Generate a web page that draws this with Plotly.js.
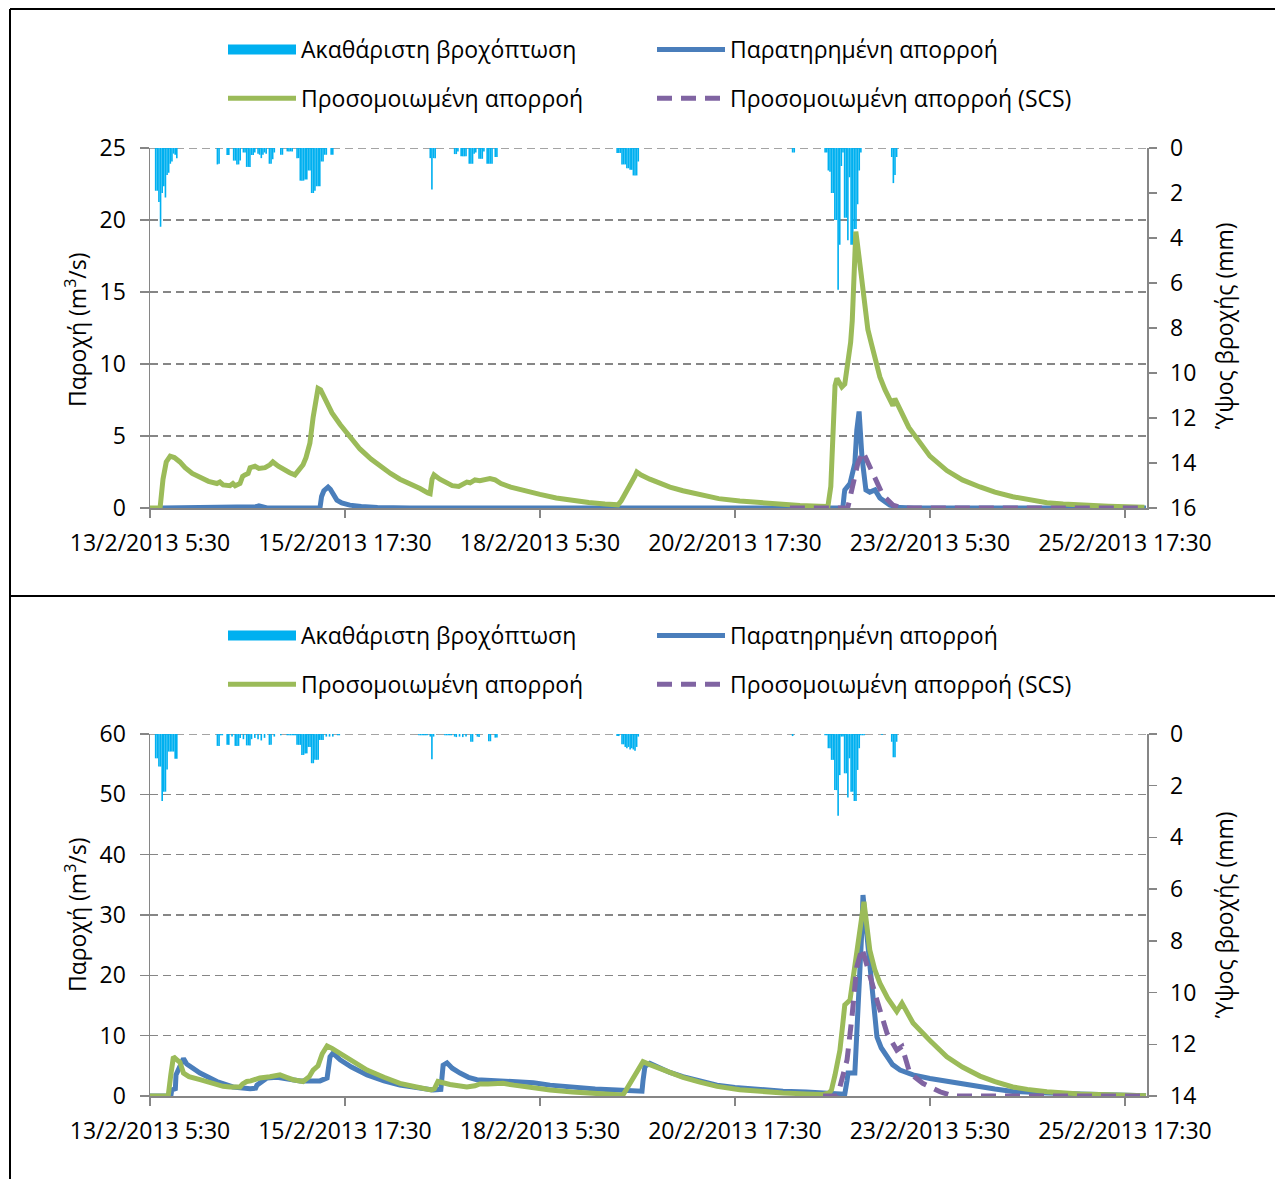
<!DOCTYPE html>
<html><head><meta charset="utf-8">
<script src="https://cdn.plot.ly/plotly-3.0.1.min.js"></script>
<style>html,body{margin:0;padding:0;background:#fff}</style>
</head><body><div id="chart" style="width:1277px;height:1179px"></div>
<script>
// ---- data (time given as hours after 13/2/2013 05:30) ----
const xTickHours = [0, 60, 120, 180, 240, 300];
const xTickLabels = ['13/2/2013 5:30','15/2/2013 17:30','18/2/2013 5:30','20/2/2013 17:30','23/2/2013 5:30','25/2/2013 17:30'];
const nameRain = 'Ακαθάριστη βροχόπτωση';
const nameObs = 'Παρατηρημένη απορροή';
const nameSim = 'Προσομοιωμένη απορροή';
const nameScs = 'Προσομοιωμένη απορροή (SCS)';
const titleFlow = 'Παροχή (m<sup>3</sup>/s)';
const titleRain = 'Ύψος βροχής (mm)';

const rainTopH = [1.75,2.25,2.75,3.25,3.75,4.25,4.75,5.25,5.75,6.25,6.75,7.25,7.75,8.25,
20.75,21.25,23.75,24.25,25.75,26.25,26.75,27.25,27.75,28.75,29.25,29.75,30.25,30.75,31.25,31.75,32.25,33.25,33.75,34.25,34.75,35.25,35.75,36.75,37.25,37.75,38.25,40.25,40.75,42.25,42.75,43.25,43.75,
45.25,45.75,46.25,46.75,47.25,47.75,48.25,48.75,49.25,49.75,50.25,50.75,51.25,51.75,52.25,52.75,53.25,53.75,54.25,55.75,56.25,
86.25,86.75,87.25,87.75,
93.75,94.25,94.75,95.75,96.25,96.75,97.25,98.25,98.75,99.25,99.75,100.25,101.25,101.75,102.25,102.75,103.75,104.25,104.75,105.25,106.25,106.75,
143.75,144.25,144.75,145.25,145.75,146.25,146.75,147.25,147.75,148.25,148.75,149.25,149.75,150.25,
197.75,198.25,
207.75,208.25,208.75,209.25,209.75,210.25,210.75,211.25,211.75,212.25,212.75,213.25,213.75,214.25,214.75,215.25,215.75,216.25,216.75,217.25,217.75,218.25,218.75,
228.25,228.75,229.25,229.75];
const rainTopMm = [1.9,1.9,2.4,3.5,2.0,1.7,2.2,1.2,1.1,0.7,0.6,0.25,0.3,0.45,
0.73,0.7,0.31,0.31,0.56,0.56,0.73,0.73,0.56,0.2,0.2,0.84,0.84,0.84,0.31,0.31,0.2,0.25,0.3,0.45,0.3,0.2,0.25,0.7,0.7,0.5,0.2,0.3,0.3,0.15,0.15,0.15,0.15,
0.45,0.45,1.45,1.45,1.45,1.4,1.4,1.0,1.0,2.0,2.0,1.9,1.7,1.7,1.7,0.6,0.6,0.3,0.3,0.3,0.3,
0.45,1.84,0.45,0.45,
0.27,0.27,0.15,0.37,0.37,0.37,0.37,0.7,0.7,0.7,0.25,0.2,0.48,0.48,0.48,0.15,0.7,0.7,0.7,0.7,0.4,0.4,
0.22,0.22,0.22,0.73,0.73,0.73,0.9,0.9,0.97,0.97,1.22,1.22,1.22,0.6,
0.2,0.2,
0.2,0.2,1.0,1.05,2.0,2.0,3.2,3.2,6.3,4.3,0.8,0.2,3.1,3.1,4.1,1.3,4.3,4.3,3.6,3.6,2.5,1.0,0.2,
0.4,1.56,1.2,0.4];

const rainBotH = [1.75,2.25,2.75,3.25,3.75,4.25,4.75,5.25,5.75,6.25,6.75,7.25,7.75,8.25,
20.75,21.25,21.75,22.25,23.75,24.25,25.25,26.25,26.75,27.25,27.75,28.75,29.75,30.25,30.75,31.25,32.25,33.25,34.25,35.25,36.75,37.25,38.25,40.25,
42.25,42.75,43.25,43.75,44.25,44.75,45.25,45.75,46.25,46.75,47.25,47.75,48.25,48.75,49.25,49.75,50.25,50.75,51.25,51.75,52.25,52.75,53.25,54.25,55.25,56.25,57.75,58.25,
82.75,83.25,83.75,84.25,84.75,85.25,86.25,86.75,87.25,
90.75,91.25,91.75,92.25,92.75,93.75,94.25,95.25,96.25,97.25,98.75,99.25,100.75,101.25,104.25,104.75,106.25,106.75,
143.75,144.25,145.25,145.75,146.25,146.75,147.25,147.75,148.25,148.75,149.25,149.75,150.25,
197.75,
207.75,208.25,208.75,209.25,209.75,210.25,210.75,211.25,211.75,212.25,212.75,213.25,213.75,214.25,214.75,215.25,215.75,216.25,216.75,217.25,217.75,218.25,218.75,219.25,219.75,
225.25,228.25,228.75,229.25,229.75];
const rainBotMm = [0.94,0.94,1.26,1.26,2.59,2.23,2.23,1.37,0.68,0.68,0.68,0.68,0.96,0.96,
0.46,0.46,0.05,0.05,0.42,0.42,0.1,0.46,0.46,0.46,0.15,0.2,0.44,0.44,0.44,0.2,0.15,0.2,0.25,0.15,0.42,0.42,0.1,0.05,
0.05,0.05,0.05,0.05,0.05,0.05,0.42,0.42,0.42,0.81,0.81,0.75,0.75,0.5,0.5,1.13,1.13,1.0,1.0,1.0,0.23,0.23,0.23,0.1,0.1,0.1,0.05,0.05,
0.05,0.05,0.05,0.05,0.05,0.05,0.1,0.98,0.1,
0.05,0.05,0.05,0.05,0.05,0.1,0.12,0.1,0.12,0.1,0.3,0.3,0.1,0.12,0.28,0.28,0.14,0.14,
0.08,0.08,0.4,0.4,0.5,0.55,0.5,0.6,0.55,0.6,0.65,0.5,0.1,
0.08,
0.05,0.05,0.55,0.55,1.0,1.0,2.17,2.17,3.16,1.59,0.1,0.1,1.52,1.52,2.46,0.94,2.23,2.23,2.59,2.59,1.39,0.55,0.05,0.05,0.05,
0.04,0.3,0.9,0.9,0.3];

const topSimH = [0,3.1,4.0,5.0,6.2,7.5,9.2,10.8,13,15.4,18,20.6,21.5,22.5,24.6,25.5,26.2,27.7,28.5,29.2,30.2,30.8,32.3,33.5,35.4,36.9,37.8,39.5,41.5,43,44.6,46.2,47.1,48,49.2,50.2,51,51.7,52.5,53.8,56,58.5,61.5,64.6,68,70.8,74,76.9,80,83.1,85.5,86.2,86.8,87.4,89.2,91,93,95,96.5,97.5,98.5,100,101.5,102.5,104.6,106.2,108,111,115,120,125,130,135,140,144,145,146,147.1,148.3,149.2,149.8,151,153.8,157,160,164,169.2,175,181.5,188,194,200,206,208.6,209.5,210.2,210.8,211.4,212.3,212.9,213.8,214.5,215.1,215.6,216.1,216.6,217.0,217.2,217.6,218.1,218.8,219.5,220.3,220.9,222,223.4,224.6,226.2,227.7,228.6,229.2,229.8,231.4,233.5,234.8,237,240,245.2,250,255.4,260,265.5,270,276,281,286.2,295,306];
const topSimQ = [0,0,2.0,3.2,3.6,3.5,3.2,2.8,2.4,2.1,1.85,1.7,1.8,1.6,1.55,1.7,1.55,1.7,2.2,2.3,2.4,2.8,2.9,2.75,2.8,3.0,3.2,2.9,2.6,2.45,2.3,2.8,3.0,3.5,4.5,6.3,7.5,8.3,8.2,7.6,6.6,5.8,4.9,4.1,3.4,2.9,2.4,2.0,1.7,1.35,1.05,1.0,2.0,2.3,2.0,1.75,1.55,1.5,1.7,1.8,1.75,1.95,1.9,1.95,2.05,1.95,1.7,1.45,1.2,0.95,0.7,0.52,0.38,0.28,0.22,0.5,0.9,1.2,1.7,2.2,2.5,2.3,2.0,1.7,1.45,1.2,0.9,0.65,0.48,0.35,0.25,0.18,0.12,0.1,1.5,6.6,8.5,9.0,8.6,8.4,8.6,9.8,10.5,11.5,13,15.5,18.0,19.2,18.5,17.2,16.3,15.0,13.8,12.4,11.4,10.1,9.1,8.2,7.4,7.1,7.6,7.3,6.5,5.6,5.2,4.5,3.6,2.6,1.95,1.46,1.1,0.78,0.6,0.37,0.27,0.2,0.12,0.05];

const topObsH = [3.7,30,32.5,33.5,35,36,52.3,52.8,53.5,54.8,55.5,56.5,57.5,59,61.5,65,70,80,213.2,213.6,213.8,215.4,216.9,217.5,218.2,219.1,220.3,221.5,223.1,224.6,227.7,230.8,235,306.5];
const topObsQ = [0,0,0.08,0.15,0.05,0,0,0.8,1.2,1.45,1.3,0.9,0.55,0.35,0.2,0.1,0.03,0,0,0.9,1.25,1.7,3.1,5.4,6.7,3.5,1.25,1.1,1.25,0.7,0.2,0.03,0,0];

const topScsH = [196.9,214.5,214.8,216.3,217.8,219.4,220.6,223.1,225.5,228.6,231.7,306.5];
const topScsQ = [0,0,0.1,1.7,3.1,3.9,3.3,2.2,0.9,0.2,0,0];

const botObsH = [0,6.4,6.7,7.8,8.0,8.6,9.5,10.3,11.3,12.3,15.4,20.6,25.5,30.8,32.5,32.9,34.5,36,39.1,42,46.2,52.3,53.5,54.5,55.4,56.3,58.5,62,66.8,72,76.9,82,87.1,89.5,90.2,91.4,93,95.4,98,100.6,104,107.7,112.9,118,123.1,130,137,143.7,151.4,151.7,152.3,153.8,157,160,164,169,174.5,180,186,194.8,202,209.2,213.8,214.5,214.8,216.9,217.5,218.5,219.1,219.4,220,220.6,221.5,223.1,223.7,225,226.8,228.5,230.8,234.8,240,245.2,250,255.4,260,265.5,270,276,286.2,296,306.5];
const botObsQ = [0,0,1.0,1.2,3.5,4.3,5.0,6.2,5.3,4.9,3.8,2.4,1.5,1.2,1.3,1.8,2.5,3.0,3.1,2.8,2.5,2.5,2.8,3.0,6.5,7.1,6.0,4.8,3.5,2.5,1.8,1.3,1.0,1.1,5.1,5.5,4.6,3.8,3.1,2.7,2.6,2.5,2.5,2.2,1.8,1.4,1.15,1.0,0.8,2.5,4.9,5.4,4.6,3.9,3.2,2.5,1.8,1.4,1.1,0.8,0.65,0.45,0.3,2.6,3.8,3.8,10.4,18.7,28,33.3,30,26,21.4,14.3,9.8,8.0,6.5,5.2,4.3,3.5,2.9,2.4,2.0,1.5,1.15,0.75,0.6,0.5,0.35,0.2,0.05];

const botSimH = [0,5.6,6.4,7.2,8.3,9.2,10.3,12,15.4,19,22.5,24.6,27.7,28.5,29.8,31,33.8,36.9,40,42,44,47.1,49,50.2,51.7,53,54.5,56,58.5,62,66.8,72,76.9,82,86.5,87.5,88.6,92.3,97.5,100,101.5,104,108.6,112,116,123.1,130,135.4,140,145.5,146.5,148.3,150,151.7,153.8,159.1,164,169.2,174.5,181.5,188,194.8,202,207.1,209,209.7,210.8,212.3,213.2,213.8,215.4,216.4,217.9,219.0,219.7,220.3,221.5,223,224.6,227,229.8,231.4,234.8,240,245.2,250,255.4,260,265.5,270,276,286.2,296,306.5];
const botSimQ = [0,0,3.5,6.5,6.0,5.6,3.8,3.2,2.7,2.1,1.6,1.5,1.5,2.0,2.4,2.5,3.0,3.2,3.5,3.1,2.7,2.4,3.2,4.3,5.0,7.0,8.3,7.9,7.1,5.8,4.3,3.1,2.1,1.5,1.0,1.2,2.4,1.9,1.5,1.7,2.0,2.0,2.1,1.8,1.45,1.0,0.65,0.5,0.3,0.15,1.0,2.7,4.0,5.7,5.2,4.0,3.1,2.3,1.6,1.05,0.75,0.5,0.35,0.25,0.5,1.0,3.5,7.6,12,15.1,15.9,19.8,24.2,30,32.2,29.5,24.2,21,18.7,16.2,14.0,15.4,12.1,9.2,6.5,4.8,3.3,2.4,1.5,1.1,0.7,0.35,0.15,0.05];

const botScsH = [207.1,211.4,212.3,214.5,216,217.5,219.1,220.9,223.7,226.8,229.8,231.4,233.8,237.8,243.1,247.1,306.5];
const botScsQ = [0,0,1.5,6.0,13.1,21.4,24.5,21.4,15.9,10.4,7.6,8.2,3.8,2.1,0.7,0,0];

// ---- helpers ----
const T0 = Date.UTC(2013, 1, 13, 5, 30);
function hd(h) { return new Date(T0 + Math.round(h * 3600000)).toISOString().slice(0, 19).replace('T', ' '); }

const W = 1277, H = 1179;
const px = v => v / W, py = v => 1 - v / H;
const FONT = 'Open Sans, Noto Sans, sans-serif';
const C_RAIN = '#00B0F0', C_OBS = '#4A7EBB', C_SIM = '#9BBB59', C_SCS = '#8064A2';
const GRAY = '#868686';
const LW = 5;

function rainBar(hs, mm, xa, ya) {
  return {type: 'bar', x: hs.map(hd), y: mm, width: 1800000, xaxis: xa, yaxis: ya,
    marker: {color: C_RAIN, line: {width: 0}}, showlegend: false, hoverinfo: 'skip'};
}
function line(hs, q, xa, ya, color, name, leg, grp, dash) {
  return {type: 'scatter', mode: 'lines', x: hs.map(hd), y: q, xaxis: xa, yaxis: ya, name: name,
    legend: leg, legendgroup: grp, line: {color: color, width: LW, dash: dash || 'solid'}, hoverinfo: 'skip'};
}
function rainLegend(xa, ya, leg, grp) {
  return {type: 'scatter', mode: 'lines', x: [null], y: [null], xaxis: xa, yaxis: ya, name: nameRain,
    legend: leg, legendgroup: grp, line: {color: C_RAIN, width: 16}, hoverinfo: 'skip'};
}

const traces = [
  rainBar(rainTopH, rainTopMm, 'x', 'y'),
  rainLegend('x', 'y2', 'legend', 'a1'),
  line(topObsH, topObsQ, 'x', 'y2', C_OBS, nameObs, 'legend2', 'b1'),
  line(topSimH, topSimQ, 'x', 'y2', C_SIM, nameSim, 'legend', 'a2'),
  line(topScsH, topScsQ, 'x', 'y2', C_SCS, nameScs, 'legend2', 'b2', '15px,9px'),
  rainBar(rainBotH, rainBotMm, 'x2', 'y3'),
  rainLegend('x2', 'y4', 'legend3', 'c1'),
  line(botObsH, botObsQ, 'x2', 'y4', C_OBS, nameObs, 'legend4', 'd1'),
  line(botSimH, botSimQ, 'x2', 'y4', C_SIM, nameSim, 'legend3', 'c2'),
  line(botScsH, botScsQ, 'x2', 'y4', C_SCS, nameScs, 'legend4', 'd2', '15px,9px')
];

const ax = {showline: true, linecolor: GRAY, linewidth: 1.5, ticks: 'outside', tickcolor: GRAY, tickwidth: 1.5,
  ticklen: 8, tickfont: {size: 23, color: '#000'}, zeroline: false, showgrid: false, fixedrange: true};
const xdom = [px(150), px(1147)];
const topDom = [py(508), py(148)], botDom = [py(1096), py(734)];
const xCommon = Object.assign({}, ax, {type: 'date', domain: xdom, range: [hd(0), hd(306.8)],
  tickmode: 'array', tickvals: xTickHours.map(hd), ticktext: xTickLabels, ticklabelstandoff: 6});
const gridOpts = {showgrid: true, gridcolor: GRAY, gridwidth: 1.4, griddash: '8px,5px'};

function legendAt(x, y) {
  return {x: px(x), y: py(y), xanchor: 'left', yanchor: 'top', traceorder: 'grouped', tracegroupgap: 16,
    itemwidth: 68, font: {size: 23, color: '#000', family: FONT}, bgcolor: 'rgba(0,0,0,0)', borderwidth: 0};
}
function title(text, x, y) {
  return {text: text, xref: 'paper', yref: 'paper', x: px(x), y: py(y), xanchor: 'center', yanchor: 'middle',
    textangle: -90, showarrow: false, font: {size: 23, color: '#000'}};
}
function topGrid(xref, yref, v) {
  return {type: 'line', xref: xref, yref: yref, x0: 0, x1: 1, y0: v, y1: v, layer: 'below',
    line: {color: GRAY, width: 1.4, dash: '8px,5px'}};
}

const layout = {
  width: W, height: H, margin: {l: 0, r: 0, t: 0, b: 0},
  paper_bgcolor: '#fff', plot_bgcolor: 'rgba(0,0,0,0)',
  font: {family: FONT, color: '#000', size: 23},
  hovermode: false, showlegend: true, barmode: 'overlay',
  xaxis: Object.assign({}, xCommon, {anchor: 'y'}),
  yaxis: Object.assign({}, ax, {domain: topDom, anchor: 'x', side: 'right', range: [16, 0], tick0: 0, dtick: 2, ticklabelstandoff: 9}),
  yaxis2: Object.assign({}, ax, gridOpts, {overlaying: 'y', anchor: 'x', side: 'left', range: [0, 25], tick0: 0, dtick: 5, ticklen: 9, ticklabelstandoff: 9}),
  xaxis2: Object.assign({}, xCommon, {anchor: 'y3'}),
  yaxis3: Object.assign({}, ax, {domain: botDom, anchor: 'x2', side: 'right', range: [14, 0], tick0: 0, dtick: 2, ticklabelstandoff: 9}),
  yaxis4: Object.assign({}, ax, gridOpts, {overlaying: 'y3', anchor: 'x2', side: 'left', range: [0, 60], tick0: 0, dtick: 10, ticklen: 9, ticklabelstandoff: 9}),
  legend: legendAt(223, 28),
  legend2: legendAt(652, 28),
  legend3: legendAt(223, 614),
  legend4: legendAt(652, 614),
  annotations: [
    title(titleFlow, 76, 330),
    title(titleRain, 1224, 326),
    title(titleFlow, 76, 915),
    title(titleRain, 1224, 915)
  ],
  shapes: [
    topGrid('x domain', 'y2', 25),
    topGrid('x2 domain', 'y4', 60),
    {type: 'line', xref: 'paper', yref: 'paper', x0: px(10), x1: px(1275), y0: py(9), y1: py(9), line: {color: '#000', width: 2}},
    {type: 'line', xref: 'paper', yref: 'paper', x0: px(10), x1: px(10), y0: py(9), y1: 0, line: {color: '#000', width: 2}},
    {type: 'line', xref: 'paper', yref: 'paper', x0: px(10), x1: px(1275), y0: py(596), y1: py(596), line: {color: '#000', width: 2}}
  ]
};

Plotly.newPlot('chart', traces, layout, {staticPlot: true, displayModeBar: false});
</script></body></html>
